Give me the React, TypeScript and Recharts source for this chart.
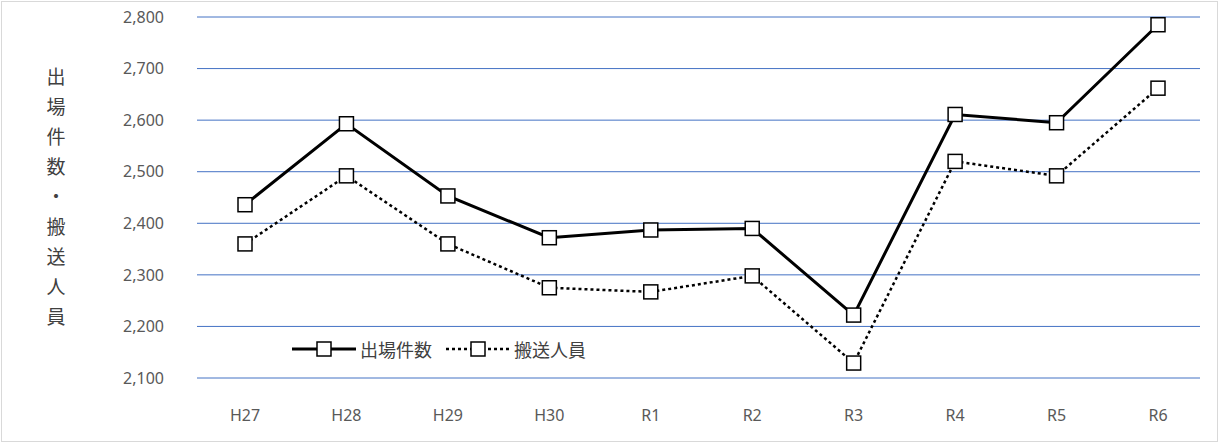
import React from 'react';
import { LineChart, Line, XAxis, YAxis, CartesianGrid } from 'recharts';

const categories = ['H27', 'H28', 'H29', 'H30', 'R1', 'R2', 'R3', 'R4', 'R5', 'R6'];
const dispatches = [2436, 2593, 2453, 2372, 2387, 2390, 2222, 2611, 2595, 2785];
const transported = [2360, 2492, 2360, 2275, 2267, 2298, 2129, 2520, 2492, 2662];
const yTicks = [2100, 2200, 2300, 2400, 2500, 2600, 2700, 2800];
const yLabel = '出場件数・搬送人員';

const data = categories.map((c, i) => ({ name: c, a: dispatches[i], b: transported[i] }));
const font = '"Noto Sans", "Noto Sans CJK JP", sans-serif';

const Square = (props: any) => {
  const { cx, cy } = props;
  if (cx == null || cy == null) return null;
  return <rect x={cx - 7} y={cy - 7} width={14} height={14} fill="#fff" stroke="#000" strokeWidth={1.5} />;
};

const LegendContent = () => (
  <div style={{ display: 'flex', alignItems: 'center', fontFamily: font, fontSize: 18, color: '#404040' }}>
    <svg width={64} height={20}>
      <line x1={0} y1={10} x2={64} y2={10} stroke="#000" strokeWidth={3} />
      <rect x={25} y={3} width={14} height={14} fill="#fff" stroke="#000" strokeWidth={1.5} />
    </svg>
    <span style={{ marginLeft: 4, marginRight: 14 }}>出場件数</span>
    <svg width={64} height={20}>
      <line x1={0} y1={10} x2={64} y2={10} stroke="#000" strokeWidth={2.5} strokeDasharray="3 3" />
      <rect x={25} y={3} width={14} height={14} fill="#fff" stroke="#000" strokeWidth={1.5} />
    </svg>
    <span style={{ marginLeft: 4 }}>搬送人員</span>
  </div>
);

export default function App() {
  return (
    <div style={{ position: 'absolute', left: 0, top: 0, width: 1219, height: 446, background: '#fff' }}>
      <div style={{ position: 'absolute', left: 1, top: 1, width: 1215, height: 439, border: '1px solid #d9d9d9' }} />
      <div style={{ position: 'absolute', left: 44, top: 62, width: 24, fontFamily: font, fontSize: 19, color: '#404040', lineHeight: '30px', textAlign: 'center' }}>
        {yLabel.split('').map((ch, i) => <div key={i}>{ch}</div>)}
      </div>
      <div style={{ position: 'absolute', left: 0, top: 0 }}>
        <LineChart width={1216} height={440} data={data} margin={{ top: 17, right: 16, bottom: 32, left: 0 }}>
          <CartesianGrid horizontal vertical={false} stroke="#4472C4" strokeWidth={1} />
          <XAxis dataKey="name" axisLine={false} tickLine={false} height={30} tickMargin={26} padding={{ left: 48, right: 42 }}
            tick={{ fill: '#595959', fontSize: 16, fontFamily: font }} />
          <YAxis domain={[2100, 2800]} ticks={yTicks} axisLine={false} tickLine={false} width={197} tickMargin={27}
            tickFormatter={(v: number) => v.toLocaleString('en-US')}
            tick={{ fill: '#595959', fontSize: 16, fontFamily: font }} />
          <Line dataKey="a" stroke="#000" strokeWidth={3} dot={<Square />} isAnimationActive={false} />
          <Line dataKey="b" stroke="#000" strokeWidth={2.5} strokeDasharray="3 3" dot={<Square />} isAnimationActive={false} />
        </LineChart>
      </div>
      <div style={{ position: 'absolute', left: 292, top: 336 }}>
        <LegendContent />
      </div>
    </div>
  );
}
